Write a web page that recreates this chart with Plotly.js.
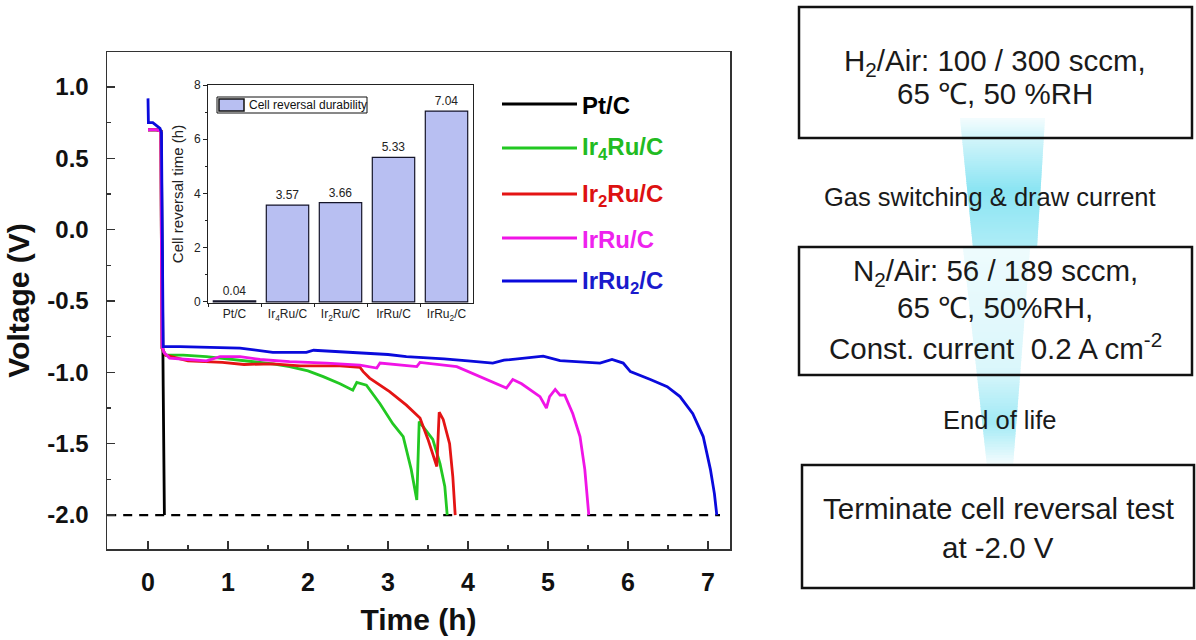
<!DOCTYPE html>
<html>
<head>
<meta charset="utf-8">
<script src="https://cdn.plot.ly/plotly-3.0.1.min.js"></script>
<style>html,body{margin:0;padding:0;background:#fff;}#chart{width:1196px;height:640px;}</style>
</head>
<body>
<div id="chart"></div>
<script>
// ---------------- data ----------------
const seriesNames = ['Pt/C', 'Ir<sub>4</sub>Ru/C', 'Ir<sub>2</sub>Ru/C', 'IrRu/C', 'IrRu<sub>2</sub>/C'];
const seriesColors = ['#000000', '#22c822', '#e41414', '#f014e6', '#0a0adc'];
const legendTextColors = ['#000000', '#22bb22', '#dd1111', '#ee22ee', '#1a1acc'];

const ptT = [0, 0.10, 0.165, 0.172, 0.18, 0.19, 0.205];
const ptV = [0.70, 0.70, 0.69, 0.0, -0.80, -1.10, -2.00];

const ir4T = [0, 0.10, 0.16, 0.168, 0.175, 0.22, 0.44, 0.73, 1.0, 1.2, 1.56, 1.77, 2.0, 2.19, 2.4, 2.56, 2.61, 2.73, 2.90, 3.06, 3.19, 3.29, 3.36, 3.39, 3.46, 3.56, 3.65, 3.71, 3.74];
const ir4V = [0.70, 0.70, 0.69, 0.0, -0.83, -0.88, -0.88, -0.89, -0.905, -0.92, -0.94, -0.96, -0.99, -1.03, -1.08, -1.125, -1.07, -1.09, -1.22, -1.36, -1.45, -1.68, -1.895, -1.345, -1.40, -1.47, -1.64, -1.80, -2.00];

const ir2T = [0, 0.10, 0.16, 0.168, 0.175, 0.22, 0.5, 0.93, 1.2, 1.56, 1.9, 2.4, 2.65, 2.69, 2.77, 3.02, 3.23, 3.40, 3.50, 3.61, 3.64, 3.69, 3.77, 3.81, 3.84];
const ir2V = [0.70, 0.70, 0.69, 0.0, -0.83, -0.88, -0.92, -0.93, -0.945, -0.94, -0.955, -0.955, -0.965, -0.995, -1.04, -1.135, -1.23, -1.32, -1.47, -1.66, -1.28, -1.33, -1.50, -1.73, -2.00];

const irT = [0, 0.10, 0.16, 0.168, 0.175, 0.20, 0.27, 0.5, 0.73, 0.9, 1.15, 1.4, 1.77, 2.23, 2.65, 2.86, 2.90, 3.36, 3.40, 3.86, 4.15, 4.48, 4.56, 4.67, 4.90, 4.98, 5.02, 5.09, 5.15, 5.21, 5.31, 5.40, 5.46, 5.51];
const irV = [0.70, 0.70, 0.69, 0.0, -0.82, -0.86, -0.90, -0.91, -0.92, -0.89, -0.89, -0.91, -0.925, -0.935, -0.95, -0.97, -0.935, -0.96, -0.93, -0.96, -1.03, -1.11, -1.05, -1.08, -1.17, -1.25, -1.17, -1.12, -1.16, -1.16, -1.29, -1.45, -1.68, -2.00];

const iru2T = [0, 0.005, 0.06, 0.15, 0.168, 0.174, 0.18, 0.19, 0.40, 0.9, 1.15, 1.56, 1.98, 2.07, 2.40, 3.0, 3.23, 3.7, 4.0, 4.31, 4.45, 4.69, 4.94, 5.15, 5.31, 5.65, 5.80, 5.94, 6.03, 6.15, 6.28, 6.49, 6.65, 6.81, 6.94, 7.03, 7.08, 7.11];
const iru2V = [0.92, 0.75, 0.75, 0.71, 0.68, 0.0, -0.70, -0.82, -0.82, -0.83, -0.83, -0.86, -0.86, -0.845, -0.855, -0.875, -0.89, -0.905, -0.92, -0.935, -0.915, -0.90, -0.886, -0.918, -0.925, -0.935, -0.91, -0.935, -0.995, -1.02, -1.05, -1.10, -1.17, -1.29, -1.45, -1.68, -1.85, -2.00];

const limitT = [-0.51, 7.15];
const limitV = [-2.0, -2.0];

const xTickVals = [0, 1, 2, 3, 4, 5, 6, 7];
const xTickText = ['0', '1', '2', '3', '4', '5', '6', '7'];
const yTickVals = [1.0, 0.5, 0.0, -0.5, -1.0, -1.5, -2.0];
const yTickText = ['1.0', '0.5', '0.0', '-0.5', '-1.0', '-1.5', '-2.0'];

const barCategories = ['Pt/C', 'Ir<sub>4</sub>Ru/C', 'Ir<sub>2</sub>Ru/C', 'IrRu/C', 'IrRu<sub>2</sub>/C'];
const barValues = [0.04, 3.57, 3.66, 5.33, 7.04];
const barLabels = ['0.04', '3.57', '3.66', '5.33', '7.04'];
const barLegendName = 'Cell reversal durability';
const insetTickVals = [0, 2, 4, 6, 8];
const insetTickText = ['0', '2', '4', '6', '8'];

const box1Lines = ['H<sub>2</sub>/Air: 100 / 300 sccm,', '65 ℃, 50 %RH'];
const step1 = 'Gas switching & draw current';
const box2Lines = ['N<sub>2</sub>/Air: 56 / 189 sccm,', '65 ℃, 50%RH,', 'Const. current  0.2 A cm<sup>-2</sup>'];
const step2 = 'End of life';
const box3Lines = ['Terminate cell reversal test', 'at -2.0 V'];

// ---------------- layout helpers ----------------
const W = 1196, H = 640;
const L = 107, R = 730, T = 52, B = 549;
const PW = R - L, PH = B - T;
const X = p => (p - L) / PW;
const Y = p => (B - p) / PH;
const FONT = 'Arial, "Liberation Sans", sans-serif';

const tSeries = [ptT, ir4T, ir2T, irT, iru2T];
const vSeries = [ptV, ir4V, ir2V, irV, iru2V];

const traces = [];
traces.push({
  x: limitT, y: limitV, type: 'scatter', mode: 'lines', showlegend: false,
  line: {color: '#000', width: 2.2, dash: '9px,7px'}, hoverinfo: 'skip'
});
for (let i = 0; i < 5; i++) {
  traces.push({
    x: tSeries[i], y: vSeries[i], type: 'scatter', mode: 'lines',
    name: seriesNames[i], showlegend: false,
    line: {color: seriesColors[i], width: 2.8}
  });
}
traces.push({
  x: barCategories, y: barValues, type: 'bar', xaxis: 'x2', yaxis: 'y2',
  name: barLegendName, showlegend: false,
  marker: {color: '#b8bff2', line: {color: '#15152a', width: 1.2}},
  text: barLabels, textposition: 'outside', cliponaxis: false,
  textfont: {family: FONT, size: 12, color: '#222'}
});

const shapes = [];
const annotations = [];

// gradient arrows (decoration), opaque blends over white to avoid seams
function gradArrow(yTop, yBot, xlTop, xrTop, xlBot, xrBot, alphaFn, n) {
  for (let i = 0; i < n; i++) {
    const f0 = i / n, f1 = (i + 1) / n;
    const y0 = yTop + (yBot - yTop) * f0, y1 = Math.min(yBot, yTop + (yBot - yTop) * f1 + 1.2);
    const g1 = Math.min(1, f1 + 1.2 / (yBot - yTop));
    const xl0 = xlTop + (xlBot - xlTop) * f0, xr0 = xrTop + (xrBot - xrTop) * f0;
    const xl1 = xlTop + (xlBot - xlTop) * g1, xr1 = xrTop + (xrBot - xrTop) * g1;
    const a = alphaFn((f0 + f1) / 2);
    const c = [110, 222, 240].map(v => Math.round(255 + (v - 255) * a));
    shapes.push({type: 'path', xref: 'paper', yref: 'paper', layer: 'below',
      path: `M ${X(xl0)},${Y(y0)} L ${X(xr0)},${Y(y0)} L ${X(xr1)},${Y(y1)} L ${X(xl1)},${Y(y1)} Z`,
      fillcolor: `rgb(${c[0]},${c[1]},${c[2]})`, line: {width: 0}});
  }
}
const lerp = (a, b, f) => a + (b - a) * f;
gradArrow(118, 248, 960, 1045, 973, 1037, f => f < 0.15 ? lerp(0.08, 0.3, f / 0.15) : (f < 0.55 ? lerp(0.3, 0.8, (f - 0.15) / 0.4) : lerp(0.8, 0.55, (f - 0.55) / 0.45)), 60);
gradArrow(248, 466, 963, 1030, 987, 1013, f => f < 0.55 ? lerp(0.12, 0.25, f / 0.55) : (f < 0.8 ? lerp(0.25, 0.65, (f - 0.55) / 0.25) : lerp(0.65, 0.05, (f - 0.8) / 0.2)), 80);

// main legend
const legY = [104, 148, 194, 238, 281];
for (let i = 0; i < 5; i++) {
  shapes.push({type: 'line', xref: 'paper', yref: 'paper', x0: X(502), x1: X(577), y0: Y(legY[i]), y1: Y(legY[i]),
    line: {color: seriesColors[i], width: 3}});
  annotations.push({xref: 'paper', yref: 'paper', x: X(580), y: Y(legY[i] + 1), xanchor: 'left', yanchor: 'middle',
    text: '<b>' + seriesNames[i] + '</b>', showarrow: false,
    font: {family: FONT, size: 24, color: legendTextColors[i]}});
}

// inset legend
shapes.push({type: 'rect', xref: 'paper', yref: 'paper', x0: X(217), x1: X(367), y0: Y(113), y1: Y(97),
  line: {color: '#111', width: 1}, fillcolor: 'rgba(255,255,255,0)'});
shapes.push({type: 'rect', xref: 'paper', yref: 'paper', x0: X(219), x1: X(244), y0: Y(111), y1: Y(99),
  line: {color: '#111', width: 1.5}, fillcolor: '#b8bff2'});
annotations.push({xref: 'paper', yref: 'paper', x: X(247), y: Y(105), xanchor: 'left', yanchor: 'middle',
  text: barLegendName, showarrow: false, font: {family: FONT, size: 12, color: '#111'}});

// boxes
const boxes = [[799, 1192, 7, 138], [799, 1192, 247, 375], [802, 1194, 465, 588]];
boxes.forEach(b => shapes.push({type: 'rect', xref: 'paper', yref: 'paper', x0: X(b[0]), x1: X(b[1]), y0: Y(b[3]), y1: Y(b[2]),
  line: {color: '#111', width: 2.5}, fillcolor: 'rgba(0,0,0,0)'}));

function addText(txt, cx, cy, size) {
  annotations.push({xref: 'paper', yref: 'paper', x: X(cx), y: Y(cy), xanchor: 'center', yanchor: 'middle',
    text: txt, showarrow: false, font: {family: FONT, size: size, color: '#1a1a1a'}});
}
addText(box1Lines[0], 995, 62, 29.5);
addText(box1Lines[1], 995, 93, 29.5);
addText(step1, 990, 197, 25.5);
addText(box2Lines[0], 995, 272, 29.5);
addText(box2Lines[1], 995, 307, 29.5);
addText(box2Lines[2], 995, 346, 29.5);
addText(step2, 999, 420, 25.5);
addText(box3Lines[0], 998, 508, 29.5);
addText(box3Lines[1], 998, 547, 29.5);

const axisCommon = {showgrid: false, zeroline: false, showline: true, mirror: true, linecolor: '#333', linewidth: 1.5,
  tickcolor: '#333', tickwidth: 1.5};

const layout = {
  width: W, height: H,
  margin: {l: L, r: W - R, t: T, b: H - B},
  paper_bgcolor: '#fff', plot_bgcolor: '#fff',
  showlegend: false,
  xaxis: Object.assign({}, axisCommon, {
    domain: [0, 1], range: [-0.5125, 7.275],
    tickmode: 'array', tickvals: xTickVals, ticktext: xTickText,
    ticks: 'inside', ticklen: 8, ticklabelstandoff: 10,
    minor: {tick0: 0, dtick: 0.5, ticks: 'inside', ticklen: 4, tickcolor: '#333', tickwidth: 1.2},
    tickfont: {family: FONT, size: 25, color: '#111', weight: 'bold'},
    title: {text: 'Time (h)', standoff: 14, font: {family: FONT, size: 30, color: '#111', weight: 'bold'}}
  }),
  yaxis: Object.assign({}, axisCommon, {
    domain: [0, 1], range: [-2.238, 1.245],
    tickmode: 'array', tickvals: yTickVals, ticktext: yTickText,
    ticks: 'inside', ticklen: 8, ticklabelstandoff: 12,
    minor: {tick0: 0, dtick: 0.25, ticks: 'inside', ticklen: 4, tickcolor: '#333', tickwidth: 1.2},
    tickfont: {family: FONT, size: 24, color: '#111', weight: 'bold'},
    title: {text: 'Voltage (V)', standoff: 9, font: {family: FONT, size: 30, color: '#111', weight: 'bold'}}
  }),
  xaxis2: {
    domain: [X(208), X(473)], anchor: 'y2', range: [-0.5, 4.5],
    showgrid: false, zeroline: false, showline: true, mirror: true, linecolor: '#222', linewidth: 1,
    ticks: 'outside', ticklen: 3, tickson: 'boundaries', tickcolor: '#222',
    tickfont: {family: FONT, size: 12, color: '#222'}
  },
  yaxis2: {
    domain: [Y(303), Y(85)], anchor: 'x2', range: [-0.04, 8],
    showgrid: false, zeroline: false, showline: true, mirror: true, linecolor: '#222', linewidth: 1,
    tickmode: 'array', tickvals: insetTickVals, ticktext: insetTickText,
    ticks: 'outside', ticklen: 4, tickcolor: '#222',
    minor: {tick0: 1, dtick: 2, ticks: 'outside', ticklen: 2, tickcolor: '#222'},
    tickfont: {family: FONT, size: 12, color: '#222'},
    title: {text: 'Cell reversal time (h)', standoff: 6, font: {family: FONT, size: 15, color: '#222'}}
  },
  bargap: 0.2,
  shapes: shapes,
  annotations: annotations
};

Plotly.newPlot('chart', traces, layout, {staticPlot: true, displayModeBar: false});
</script>
</body>
</html>
